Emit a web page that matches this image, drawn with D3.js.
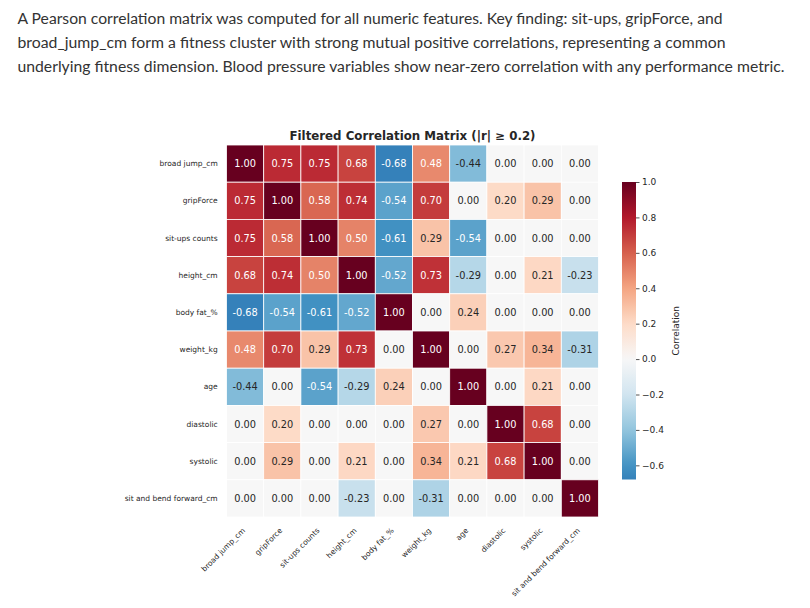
<!DOCTYPE html>
<html>
<head>
<meta charset="utf-8">
<script src="https://cdn.jsdelivr.net/npm/d3@7"></script>
<style>
  html, body { margin: 0; padding: 0; background: #ffffff; }
  svg { display: block; }
</style>
</head>
<body>
<svg id="chart" width="810" height="608"></svg>
<script>
// ---------- data ----------
const introLines = [
  "A Pearson correlation matrix was computed for all numeric features. Key finding: sit-ups, gripForce, and",
  "broad_jump_cm form a fitness cluster with strong mutual positive correlations, representing a common",
  "underlying fitness dimension. Blood pressure variables show near-zero correlation with any performance metric."
];
const chartTitle = "Filtered Correlation Matrix (|r| \u2265 0.2)";
const colorbarLabel = "Correlation";
const features = [
  "broad jump_cm", "gripForce", "sit-ups counts", "height_cm", "body fat_%",
  "weight_kg", "age", "diastolic", "systolic", "sit and bend forward_cm"
];
const corrRows = [
  [ 1.00,  0.75,  0.75,  0.68, -0.68,  0.48, -0.44,  0.00,  0.00,  0.00],
  [ 0.75,  1.00,  0.58,  0.74, -0.54,  0.70,  0.00,  0.20,  0.29,  0.00],
  [ 0.75,  0.58,  1.00,  0.50, -0.61,  0.29, -0.54,  0.00,  0.00,  0.00],
  [ 0.68,  0.74,  0.50,  1.00, -0.52,  0.73, -0.29,  0.00,  0.21, -0.23],
  [-0.68, -0.54, -0.61, -0.52,  1.00,  0.00,  0.24,  0.00,  0.00,  0.00],
  [ 0.48,  0.70,  0.29,  0.73,  0.00,  1.00,  0.00,  0.27,  0.34, -0.31],
  [-0.44,  0.00, -0.54, -0.29,  0.24,  0.00,  1.00,  0.00,  0.21,  0.00],
  [ 0.00,  0.20,  0.00,  0.00,  0.00,  0.27,  0.00,  1.00,  0.68,  0.00],
  [ 0.00,  0.29,  0.00,  0.21,  0.00,  0.34,  0.21,  0.68,  1.00,  0.00],
  [ 0.00,  0.00,  0.00, -0.23,  0.00, -0.31,  0.00,  0.00,  0.00,  1.00]
];
const colorbarTicks = [1.0, 0.8, 0.6, 0.4, 0.2, 0.0, -0.2, -0.4, -0.6];
// matplotlib RdBu_r anchor colours (ColorBrewer 11-class, reversed)
const rdbuR = ["#053061", "#2166ac", "#4393c3", "#92c5de", "#d1e5f0", "#f7f7f7",
               "#fddbc7", "#f4a582", "#d6604d", "#b2182b", "#67001f"];

// ---------- layout ----------
const svg = d3.select("#chart");
const W = 810, H = 608;
const hm = { left: 226.5, top: 145, size: 372 };
const cb = { x: 622, width: 14, top: 182, bottom: 479.5 };
const textDark = "#262626";

svg.append("rect").attr("width", W).attr("height", H).attr("fill", "#ffffff");

// ---------- intro paragraph ----------
const introWidths = [705, 708, 767];
svg.append("g").selectAll("text").data(introLines).join("text")
  .attr("x", 17.5)
  .attr("y", (d, i) => 23.5 + i * 24)
  .attr("font-family", "Lato, 'Open Sans', sans-serif")
  .attr("font-size", 15.5)
  .attr("fill", "#333333")
  .attr("textLength", (d, i) => introWidths[i])
  .attr("lengthAdjust", "spacingAndGlyphs")
  .text(d => d);

// ---------- scales ----------
const x = d3.scaleBand().domain(features).range([hm.left, hm.left + hm.size]).padding(0);
const y = d3.scaleBand().domain(features).range([hm.top, hm.top + hm.size]).padding(0);
const color = d3.scaleLinear()
  .domain(d3.range(rdbuR.length).map(i => -1 + i * 2 / (rdbuR.length - 1)))
  .range(rdbuR)
  .interpolate(d3.interpolateRgb)
  .clamp(true);

function luminance(c) {
  const rgb = d3.rgb(c);
  const lin = v => { v /= 255; return v <= 0.03928 ? v / 12.92 : Math.pow((v + 0.055) / 1.055, 2.4); };
  return 0.2126 * lin(rgb.r) + 0.7152 * lin(rgb.g) + 0.0722 * lin(rgb.b);
}

const cells = [];
corrRows.forEach((row, i) => row.forEach((v, j) => cells.push({ r: features[i], c: features[j], v })));

// ---------- heatmap ----------
const g = svg.append("g");
g.selectAll("rect.cell").data(cells).join("rect")
  .attr("class", "cell")
  .attr("x", d => x(d.c))
  .attr("y", d => y(d.r))
  .attr("width", x.bandwidth())
  .attr("height", y.bandwidth())
  .attr("fill", d => color(d.v))
  .attr("stroke", "#ffffff")
  .attr("stroke-width", 0.8);

g.selectAll("text.annot").data(cells).join("text")
  .attr("class", "annot")
  .attr("x", d => x(d.c) + x.bandwidth() / 2)
  .attr("y", d => y(d.r) + y.bandwidth() / 2)
  .attr("text-anchor", "middle")
  .attr("dominant-baseline", "central")
  .attr("font-family", "'DejaVu Sans', sans-serif")
  .attr("font-size", 9.8)
  .attr("fill", d => luminance(color(d.v)) > 0.408 ? textDark : "#ffffff")
  .text(d => d3.format(".2f")(d.v).replace("\u2212", "-"));

// title
svg.append("text")
  .attr("x", hm.left + hm.size / 2)
  .attr("y", 140)
  .attr("text-anchor", "middle")
  .attr("font-family", "'DejaVu Sans', sans-serif")
  .attr("font-weight", "bold")
  .attr("font-size", 11.8)
  .attr("fill", textDark)
  .text(chartTitle);

// y axis labels
svg.append("g").selectAll("text").data(features).join("text")
  .attr("x", 217.7)
  .attr("y", d => y(d) + y.bandwidth() / 2)
  .attr("text-anchor", "end")
  .attr("dominant-baseline", "central")
  .attr("font-family", "'DejaVu Sans', sans-serif")
  .attr("font-size", 7.5)
  .attr("fill", textDark)
  .text(d => d);

// x axis labels
svg.append("g").selectAll("text").data(features).join("text")
  .attr("transform", d => `translate(${x(d) + x.bandwidth() / 2 + 0.5},${531}) rotate(-45)`)
  .attr("text-anchor", "end")
  .attr("font-family", "'DejaVu Sans', sans-serif")
  .attr("font-size", 7.5)
  .attr("fill", textDark)
  .text(d => d);

// ---------- colorbar ----------
const vmin = d3.min(corrRows.flat());
const vmax = d3.max(corrRows.flat());
const cbScale = d3.scaleLinear().domain([vmin, vmax]).range([cb.bottom, cb.top]);

const defs = svg.append("defs");
const grad = defs.append("linearGradient")
  .attr("id", "cbgrad").attr("x1", 0).attr("y1", 1).attr("x2", 0).attr("y2", 0);
d3.range(0, 1.0001, 0.02).forEach(t => {
  const v = vmin + t * (vmax - vmin);
  grad.append("stop").attr("offset", t).attr("stop-color", color(v));
});
svg.append("rect")
  .attr("x", cb.x).attr("y", cb.top)
  .attr("width", cb.width).attr("height", cb.bottom - cb.top)
  .attr("fill", "url(#cbgrad)");

const cbAxis = d3.axisRight(cbScale)
  .tickValues(colorbarTicks)
  .tickSize(3.5)
  .tickPadding(2.5)
  .tickFormat(d3.format(".1f"));
const cbG = svg.append("g")
  .attr("transform", `translate(${cb.x + cb.width},0)`)
  .call(cbAxis);
cbG.select(".domain").remove();
cbG.selectAll(".tick line").attr("stroke", textDark).attr("stroke-width", 0.8);
cbG.selectAll(".tick text")
  .attr("font-family", "'DejaVu Sans', sans-serif")
  .attr("font-size", 9)
  .attr("fill", textDark);

svg.append("text")
  .attr("transform", `translate(679,${(cb.top + cb.bottom) / 2}) rotate(-90)`)
  .attr("text-anchor", "middle")
  .attr("font-family", "'DejaVu Sans', sans-serif")
  .attr("font-size", 9)
  .attr("fill", textDark)
  .text(colorbarLabel);
</script>
</body>
</html>
